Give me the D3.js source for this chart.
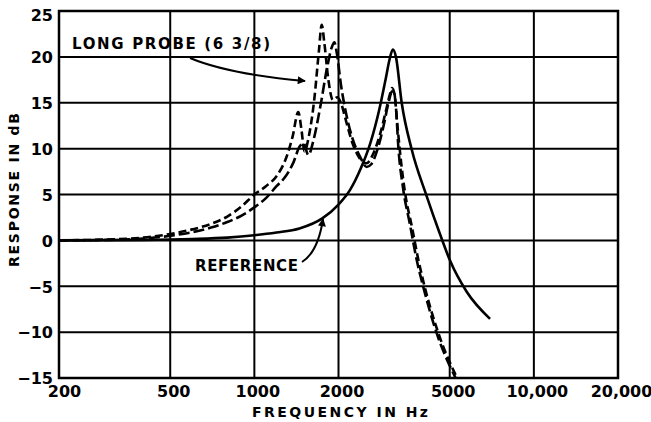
<!DOCTYPE html>
<html>
<head>
<meta charset="utf-8">
<script src="https://cdn.jsdelivr.net/npm/d3@7"></script>
<style>
  html, body { margin: 0; padding: 0; background: #fff; }
  svg { display: block; }
  text { font-family: "DejaVu Sans", sans-serif; font-weight: bold; fill: #000; }
</style>
</head>
<body>
<svg id="chart" width="651" height="422"></svg>
<script>
// Frequency response curves (dB) versus frequency (Hz)
const referenceFreq = [200, 400, 600, 800, 1000, 1200, 1450, 1750, 2000, 2200, 2400, 2600, 2800, 2950, 3050, 3130, 3210, 3366, 3656, 4137, 4600, 5012, 5750, 6970];
const referenceDb   = [0, 0.05, 0.15, 0.3, 0.55, 0.85, 1.3, 2.4, 3.9, 5.5, 7.8, 10.6, 14.3, 17.6, 19.8, 20.8, 20.0, 15.0, 9.9, 4.8, 0.8, -2.2, -5.6, -8.55];

const probeAFreq = [200, 300, 400, 500, 600, 700, 800, 900, 1000, 1100, 1200, 1300, 1370, 1436, 1475, 1510, 1570, 1640, 1700, 1742, 1780, 1840, 1910, 1980, 2040, 2120, 2250, 2400, 2520, 2650, 2800, 2950, 3060, 3110, 3170, 3250, 3350, 3460, 3660, 3860, 4010, 4540, 5310];
const probeADb   = [0, 0.1, 0.3, 0.7, 1.2, 1.8, 2.6, 3.7, 5.0, 5.9, 7.0, 9.0, 11.3, 14.0, 12.0, 9.7, 11.5, 15.5, 20.5, 23.5, 21.5, 17.5, 15.3, 15.6, 15.0, 13.2, 10.5, 8.8, 8.4, 9.3, 11.3, 14.0, 16.0, 16.6, 16.0, 12.5, 8.5, 5.2, 1.5, -2.1, -4.3, -10, -15];

const probeBFreq = [200, 300, 400, 500, 600, 700, 800, 900, 1000, 1100, 1200, 1288, 1380, 1450, 1500, 1560, 1630, 1720, 1820, 1890, 1932, 1975, 2040, 2130, 2250, 2400, 2520, 2620, 2750, 2900, 3020, 3100, 3150, 3210, 3274, 3400, 3600, 3820, 4000, 4500, 5250];
const probeBDb   = [0, 0.05, 0.2, 0.5, 0.9, 1.4, 2.0, 2.7, 3.6, 4.6, 5.9, 6.9, 8.5, 10.2, 10.6, 9.3, 11.0, 14.5, 18.8, 21.0, 21.6, 20.3, 17.0, 13.8, 11.0, 9.0, 8.0, 8.3, 9.8, 12.5, 15.0, 16.2, 16.3, 14.5, 10.2, 5.8, 1.8, -2.3, -4.8, -10.2, -15];

const xTicks = [200, 500, 1000, 2000, 5000, 10000, 20000];
const xTickLabels = ["200", "500", "1000", "2000", "5000", "10,000", "20,000"];
const yTicks = [-15, -10, -5, 0, 5, 10, 15, 20, 25];
const yTickLabels = ["\u221215", "\u221210", "\u22125", "0", "5", "10", "15", "20", "25"];

const svg = d3.select("#chart");
const plotLeft = 59, plotRight = 618, plotTop = 11, plotBottom = 378;

const x = d3.scaleLog().domain([200, 20000]).range([plotLeft, plotRight]);
const y = d3.scaleLinear().domain([-15, 25]).range([plotBottom, plotTop]);

// grid lines
const grid = svg.append("g").attr("stroke", "#000").attr("stroke-width", 2);
grid.selectAll("line.v").data(xTicks.slice(1, -1)).join("line").attr("class", "v")
  .attr("x1", d => x(d)).attr("x2", d => x(d))
  .attr("y1", plotTop).attr("y2", plotBottom);
grid.selectAll("line.h").data(yTicks.slice(1, -1)).join("line").attr("class", "h")
  .attr("y1", d => y(d)).attr("y2", d => y(d))
  .attr("x1", plotLeft).attr("x2", plotRight);

// frame
svg.append("rect").attr("x", plotLeft).attr("y", plotTop)
  .attr("width", plotRight - plotLeft).attr("height", plotBottom - plotTop)
  .attr("fill", "none").attr("stroke", "#000").attr("stroke-width", 2.5);

// axes (labels only; the frame and grid carry the lines)
const yAxis = svg.append("g").attr("transform", `translate(${plotLeft},0)`)
  .call(d3.axisLeft(y).tickValues(yTicks).tickSize(0).tickPadding(6)
    .tickFormat((d, i) => yTickLabels[i]));
yAxis.select(".domain").remove();
yAxis.selectAll("text").style("font-size", "16px")
  .attr("dy", d => d === 25 ? "0.62em" : "0.36em");

const xAxis = svg.append("g").attr("transform", `translate(0,${plotBottom})`)
  .call(d3.axisBottom(x).tickValues(xTicks).tickSize(0).tickPadding(8)
    .tickFormat((d, i) => xTickLabels[i]));
xAxis.select(".domain").remove();
xAxis.selectAll("text").style("font-size", "16px").attr("dx", d => d === 200 ? 5 : 3);

// axis titles
svg.append("text").attr("transform", "translate(19,190) rotate(-90)")
  .attr("text-anchor", "middle").style("font-size", "14px")
  .attr("textLength", 154).attr("lengthAdjust", "spacing")
  .text("RESPONSE IN dB");
svg.append("text").attr("x", 340).attr("y", 417)
  .attr("text-anchor", "middle").style("font-size", "14px")
  .attr("textLength", 176).attr("lengthAdjust", "spacing")
  .text("FREQUENCY IN Hz");

// curves
const line = d3.line().x(d => x(d[0])).y(d => y(d[1])).curve(d3.curveMonotoneX);
const curves = [
  { f: referenceFreq, v: referenceDb, dash: null },
  { f: probeAFreq, v: probeADb, dash: "8,4" },
  { f: probeBFreq, v: probeBDb, dash: "11,4" }
];
svg.append("g").selectAll("path").data(curves).join("path")
  .attr("d", c => line(d3.zip(c.f, c.v)))
  .attr("fill", "none").attr("stroke", "#000").attr("stroke-width", 2.6)
  .attr("stroke-linejoin", "round")
  .attr("stroke-dasharray", c => c.dash);

// annotations
svg.append("defs").append("marker").attr("id", "arrow")
  .attr("viewBox", "0 0 10 10").attr("refX", 9).attr("refY", 5)
  .attr("markerWidth", 11).attr("markerHeight", 8).attr("markerUnits", "userSpaceOnUse")
  .attr("orient", "auto")
  .append("path").attr("d", "M0,0 L10,5 L0,10 Z").attr("fill", "#000");

svg.append("text").attr("x", 72).attr("y", 49).style("font-size", "15px")
  .attr("textLength", 198).attr("lengthAdjust", "spacing")
  .text("LONG PROBE (6 3/8)");
svg.append("path").attr("d", "M190,58 Q228,74 305,81")
  .attr("fill", "none").attr("stroke", "#000").attr("stroke-width", 2)
  .attr("marker-end", "url(#arrow)");

svg.append("text").attr("x", 195).attr("y", 271).style("font-size", "15px")
  .attr("textLength", 103).attr("lengthAdjust", "spacing")
  .text("REFERENCE");
svg.append("path").attr("d", "M302,262 Q318,252 323,219")
  .attr("fill", "none").attr("stroke", "#000").attr("stroke-width", 2)
  .attr("marker-end", "url(#arrow)");
</script>
</body>
</html>
